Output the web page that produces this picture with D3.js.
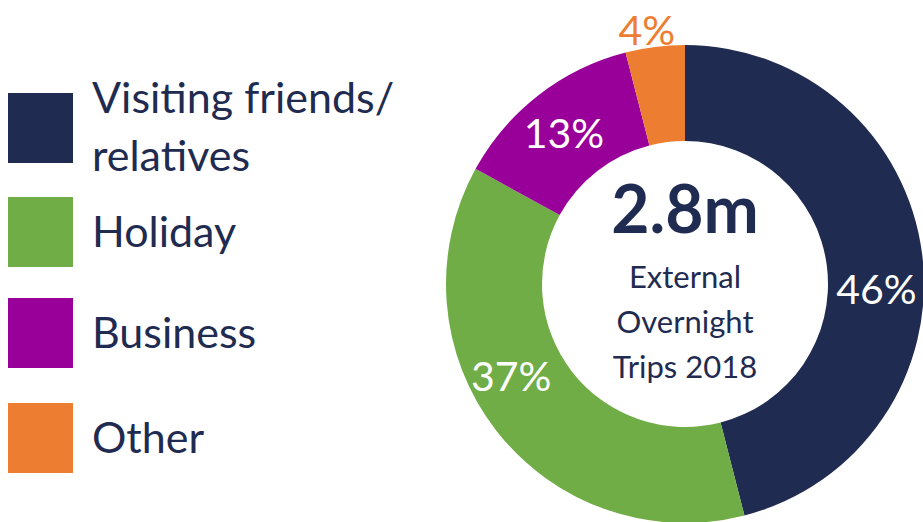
<!DOCTYPE html>
<html>
<head>
<meta charset="utf-8">
<script src="https://cdn.jsdelivr.net/npm/d3@7"></script>
<style>
  body { margin: 0; background: #fff; }
  svg { display: block; font-family: Lato, "Open Sans", sans-serif; }
</style>
</head>
<body>
<svg id="chart"></svg>
<script>
// data
const categories = ["Visiting friends/relatives", "Holiday", "Business", "Other"];
const legendLines = [["Visiting friends/", "relatives"], ["Holiday"], ["Business"], ["Other"]];
const shares = [46, 37, 13, 4];
const colours = ["#1f2b50", "#70ad47", "#990099", "#ed7d31"];
const totalLabel = "2.8m";
const centreLines = ["External", "Overnight", "Trips 2018"];

const width = 923, height = 522;
const navy = "#1f2b50";

let svg = d3.select("#chart")
    .attr("width", width)
    .attr("height", height);

// legend
const legendStep = [0, 104, 205, 310]; // spacing isn't even in the original

let legend = svg.append("g")
    .selectAll("g")
    .data(categories)
    .join("g")
    .attr("transform", (d, i) => `translate(8, ${93 + legendStep[i]})`);

legend.append("rect")
    .attr("width", 65)
    .attr("height", 70)
    .attr("fill", (d, i) => colours[i]);

legend.each(function(d, i) {
    const g = d3.select(this);
    const lines = legendLines[i];
    const base = lines.length > 1 ? 20 : 50;
    lines.forEach((t, j) => {
        g.append("text")
            .attr("x", 84)
            .attr("y", base + j * 58)
            .attr("fill", navy)
            .style("font-size", "43px")
            .text(t);
    });
});

// donut
const cx = 685, cy = 284;
const outerR = 239, innerR = 143;

const pie = d3.pie().sort(null).value(d => d);
const arcs = pie(shares);

const arc = d3.arc().innerRadius(innerR).outerRadius(outerR);

let donut = svg.append("g")
    .attr("transform", `translate(${cx}, ${cy})`);

donut.selectAll("path")
    .data(arcs)
    .join("path")
    .attr("d", arc)
    .attr("fill", (d, i) => colours[i]);

// labels: inside ring, except the tiny slice which sits outside
const labelArc = d3.arc().innerRadius(191).outerRadius(191);
const outsideArc = d3.arc().innerRadius(256).outerRadius(256);
const labelNudge = [[2, 29], [-23, -25], [-4, 0], [-6, 0]];

donut.selectAll("text.pct")
    .data(arcs)
    .join("text")
    .attr("class", "pct")
    .attr("transform", (d, i) => {
        const c = (d.data < 8 ? outsideArc : labelArc).centroid(d);
        return `translate(${c[0] + labelNudge[i][0]}, ${c[1] + labelNudge[i][1]})`;
    })
    .attr("text-anchor", "middle")
    .attr("dy", "0.36em")
    .attr("fill", (d, i) => d.data < 8 ? colours[i] : "#fff")
    .style("font-size", "41px")
    .text(d => d.data + "%");

// centre text
donut.append("text")
    .attr("text-anchor", "middle")
    .attr("y", -51)
    .attr("fill", navy)
    .style("font-size", "66px")
    .style("font-weight", "bold")
    .text(totalLabel);

donut.selectAll("text.centre")
    .data(centreLines)
    .join("text")
    .attr("class", "centre")
    .attr("text-anchor", "middle")
    .attr("y", (d, i) => 4 + i * 45)
    .attr("fill", navy)
    .style("font-size", "31px")
    .text(d => d);
</script>
</body>
</html>
